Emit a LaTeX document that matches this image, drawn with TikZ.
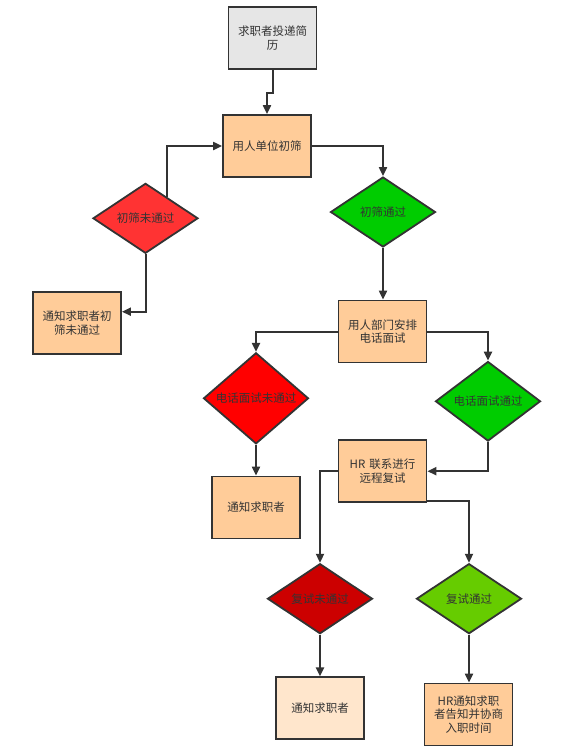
\documentclass[tikz,border=0pt]{standalone}
\usepackage{fontspec}
\newfontfamily\cjk{Noto Sans CJK SC}
\usetikzlibrary{shapes.geometric,arrows.meta,calc}
\definecolor{lineC}{HTML}{333333}
\definecolor{grayF}{HTML}{E6E6E6}
\definecolor{orangeF}{HTML}{FFCC99}
\definecolor{lightF}{HTML}{FFE6CC}
\definecolor{redA}{HTML}{FF3333}
\definecolor{redB}{HTML}{FF0000}
\definecolor{redC}{HTML}{CC0000}
\definecolor{greenA}{HTML}{00CC00}
\definecolor{greenB}{HTML}{66CC00}
\begin{document}
\begin{tikzpicture}[x=1pt,y=-1pt,
  font=\cjk\fontsize{11.5pt}{13.7pt}\selectfont,
  box/.style={draw=lineC,line width=1.8pt,fill=orangeF,minimum width=88pt,minimum height=62pt,inner sep=2pt,align=center,text=lineC,text width=82pt},
  dia/.style={draw=lineC,line width=1.8pt,diamond,minimum width=105pt,minimum height=70pt,inner sep=0pt,align=center,text=lineC},
  arr/.style={draw=lineC,line width=2pt,-{Triangle[length=9pt,width=8pt]}},
  ln/.style={draw=lineC,line width=2pt}]
\useasboundingbox (0,0) rectangle (585,756);
\node[box,fill=grayF] (b1) at (272.5,38.3) {求职者投递简\\历};
\node[box] (b2) at (267,146) {用人单位初筛};
\node[dia,fill=redA] (d1) at (145.5,218.3) {初筛未通过};
\node[dia,fill=greenA] (d2) at (383,212) {初筛通过};
\node[box] (n1) at (77,323.2) {通知求职者初\\筛未通过};
\node[box] (b3) at (382.5,331.5) {用人部门安排\\电话面试};
\node[dia,fill=redB] (d3) at (256,398.3) {电话面试未通过};
\node[dia,fill=greenA] (d4) at (488,401.3) {电话面试通过};
\node[box] (n2) at (256,507.5) {通知求职者};
\node[box] (b4) at (382.5,471.2) {HR 联系进行\\远程复试};
\node[dia,fill=redC] (d5) at (320,598.7) {复试未通过};
\node[dia,fill=greenB] (d6) at (469,598.7) {复试通过};
\node[box,fill=lightF] (n3) at (320,708.3) {通知求职者};
\node[box] (n4) at (468.5,714.5) {HR通知求职\\者告知并协商\\入职时间};
% connectors
\coordinate (b1k) at ($(b1.south)+(0,22.5)$);
\draw[arr] (b1.south) -- (b1k) -| (b2.north);
\draw[arr] (b2.east) -| (d2.north);
\coordinate (d1p) at ($(d1.north)!0.4!(d1.east)$);
\draw[arr] (d1p) |- (b2.west);
\draw[arr] (d1.south) |- ($(n1.east)+(0,-11.5)$);
\draw[arr] (d2.south) -- (d2.south |- b3.north);
\draw[arr] (b3.west) -| (d3.north);
\draw[arr] (b3.east) -| (d4.north);
\draw[arr] (d3.south) -- (d3.south |- n2.north);
\draw[arr] (d4.south) |- (b4.east);
\draw[arr] (b4.west) -| (d5.north);
\draw[arr] ($(b4.south east)+(0,-1.7)$) -| (d6.north);
\draw[arr] (d5.south) -- (d5.south |- n3.north);
\draw[arr] (d6.south) -- (d6.south |- n4.north);
\end{tikzpicture}
\end{document}
